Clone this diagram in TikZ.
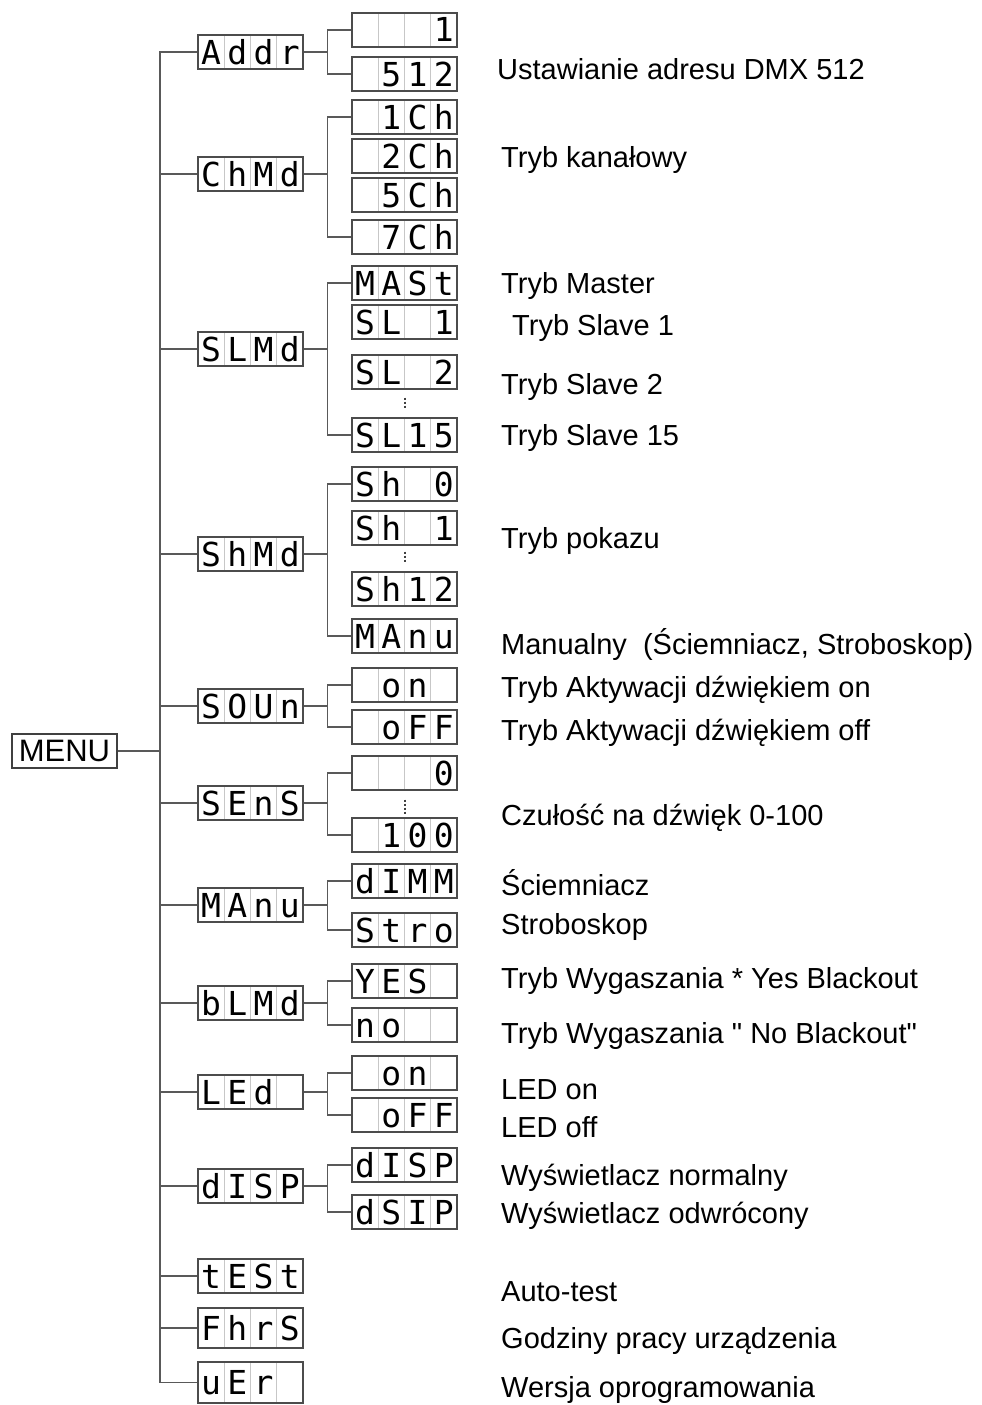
\documentclass[tikz,border=0pt]{standalone}
\usepackage{fontspec}
\setmainfont{Liberation Sans}[Ligatures=TeXOff]
\newfontfamily\lcdfont{DejaVu Sans Mono}
\usetikzlibrary{positioning}

% four cells of the display
\newcommand{\lcd}[4]{\makebox[26.25pt]{#1}\makebox[26.25pt]{#2}\makebox[26.25pt]{#3}\makebox[26.25pt]{#4}}

\begin{document}
\begin{tikzpicture}[x=1pt, y=-1pt,
    disp/.style={rectangle, draw=black!70, line width=1.3pt, inner sep=0pt,
      minimum width=105pt, minimum height=34pt, text height=24pt, text depth=0pt,
      font=\lcdfont\fontsize{33}{33}\selectfont,
      path picture={\foreach \k in {1,2,3}
        \draw[black!22, line width=0.9pt] ([xshift=\k*26.25pt]path picture bounding box.south west) -- ([xshift=\k*26.25pt]path picture bounding box.north west);}},
    conn/.style={draw=black!65, line width=1.3pt},
    gap/.style={draw=black!75, line width=2pt, dash pattern=on 2pt off 2pt},
    note/.style={anchor=base west, inner sep=0pt, font=\fontsize{29}{34}\selectfont}]

    \useasboundingbox (0,0) rectangle (982,1405);

    \node[draw=black!75, line width=1.5pt, minimum width=105pt, minimum height=34pt, inner sep=0pt,
      font=\fontsize{31}{31}\selectfont] (menu) at (64.5,751) {MENU};
    \coordinate (trunk) at (160,751);

    % main menu
    \node[disp] (addr) at (250.5,52) {\lcd{A}{d}{d}{r}};
    \node[disp] (chmd) at (250.5,174) {\lcd{C}{h}{M}{d}};
    \node[disp] (slmd) at (250.5,349) {\lcd{S}{L}{M}{d}};
    \node[disp] (shmd) at (250.5,554) {\lcd{S}{h}{M}{d}};
    \node[disp] (soun) at (250.5,706) {\lcd{S}{O}{U}{n}};
    \node[disp] (sens) at (250.5,803) {\lcd{S}{E}{n}{S}};
    \node[disp] (manu) at (250.5,905) {\lcd{M}{A}{n}{u}};
    \node[disp] (blmd) at (250.5,1003) {\lcd{b}{L}{M}{d}};
    \node[disp] (led) at (250.5,1092) {\lcd{L}{E}{d}{}};
    \node[disp] (disp) at (250.5,1186) {\lcd{d}{I}{S}{P}};
    \node[disp] (test) at (250.5,1276) {\lcd{t}{E}{S}{t}};
    \node[disp, minimum height=40pt] (fhrs) at (250.5,1328) {\lcd{F}{h}{r}{S}};
    \node[disp, minimum height=41pt] (uer) at (250.5,1382.5) {\lcd{u}{E}{r}{}};

    % sub menus
    \node[disp] (aone) at (404.5,30) {\lcd{}{}{}{1}};
    \node[disp] (atwo) at (404.5,74) {\lcd{}{5}{1}{2}};

    \node[disp] (chone) at (404.5,117) {\lcd{}{1}{C}{h}};
    \node[disp] (chtwo) at (404.5,156) {\lcd{}{2}{C}{h}};
    \node[disp] (chfive) at (404.5,195) {\lcd{}{5}{C}{h}};
    \node[disp] (chseven) at (404.5,237) {\lcd{}{7}{C}{h}};

    \node[disp] (mast) at (404.5,283) {\lcd{M}{A}{S}{t}};
    \node[disp] (slone) at (404.5,322) {\lcd{S}{L}{}{1}};
    \node[disp] (sltwo) at (404.5,372) {\lcd{S}{L}{}{2}};
    \node[disp] (slfif) at (404.5,435) {\lcd{S}{L}{1}{5}};

    \node[disp] (shzero) at (404.5,484) {\lcd{S}{h}{}{0}};
    \node[disp] (shone) at (404.5,528) {\lcd{S}{h}{}{1}};
    \node[disp] (shtwel) at (404.5,589) {\lcd{S}{h}{1}{2}};
    \node[disp] (shmanu) at (404.5,636) {\lcd{M}{A}{n}{u}};

    \node[disp] (son) at (404.5,685) {\lcd{}{o}{n}{}};
    \node[disp] (soff) at (404.5,727) {\lcd{}{o}{F}{F}};

    \node[disp] (szero) at (404.5,773) {\lcd{}{}{}{0}};
    \node[disp] (shund) at (404.5,835) {\lcd{}{1}{0}{0}};

    \node[disp] (dimm) at (404.5,881) {\lcd{d}{I}{M}{M}};
    \node[disp] (stro) at (404.5,930) {\lcd{S}{t}{r}{o}};

    \node[disp] (yes) at (404.5,981) {\lcd{Y}{E}{S}{}};
    \node[disp] (no) at (404.5,1025) {\lcd{n}{o}{}{}};

    \node[disp] (lon) at (404.5,1073) {\lcd{}{o}{n}{}};
    \node[disp] (loff) at (404.5,1115) {\lcd{}{o}{F}{F}};

    \node[disp] (dnorm) at (404.5,1165) {\lcd{d}{I}{S}{P}};
    \node[disp] (drev) at (404.5,1212) {\lcd{d}{S}{I}{P}};

    % descriptions
    \node[note] (taddr) at (497,79) {Ustawianie adresu DMX 512};
    \node[note] (tchmd) at (501,167) {Tryb kanałowy};
    \node[note] (tmast) at (501,293) {Tryb Master};
    \node[note] (tslone) at (512,335) {Tryb Slave 1};
    \node[note] (tsltwo) at (501,394) {Tryb Slave 2};
    \node[note] (tslfif) at (501,445) {Tryb Slave 15};
    \node[note] (tshmd) at (501,548) {Tryb pokazu};
    \node[note] (tshmanu) at (501,654) {Manualny\ \ (Ściemniacz, Stroboskop)};
    \node[note] (tson) at (501,697) {Tryb Aktywacji dźwiękiem on};
    \node[note] (tsoff) at (501,740) {Tryb Aktywacji dźwiękiem off};
    \node[note] (tsens) at (501,825) {Czułość na dźwięk 0-100};
    \node[note] (tdimm) at (501,895) {Ściemniacz};
    \node[note] (tstro) at (501,934) {Stroboskop};
    \node[note] (tyes) at (501,988) {Tryb Wygaszania * Yes Blackout};
    \node[note] (tno) at (501,1043) {Tryb Wygaszania " No Blackout"};
    \node[note] (tlon) at (501,1099) {LED on};
    \node[note] (tloff) at (501,1137) {LED off};
    \node[note] (tdnorm) at (501,1185) {Wyświetlacz normalny};
    \node[note] (tdrev) at (501,1223) {Wyświetlacz odwrócony};
    \node[note] (ttest) at (501,1301) {Auto-test};
    \node[note] (tfhrs) at (501,1348) {Godziny pracy urządzenia};
    \node[note] (tuer) at (501,1397) {Wersja oprogramowania};

    % tree lines
    \draw[conn] (menu.east) -- (trunk);
    \draw[conn] (addr.west) -| (trunk) |- (uer.west);
    \foreach \n in {chmd,slmd,shmd,soun,sens,manu,blmd,led,disp,test,fhrs}
      \draw[conn] (\n.west) -- (\n.west -| trunk);

    \draw[conn] (addr.east) -- ++(24,0) |- (aone.west) (addr.east) ++(24,0) |- (atwo.west);
    \draw[conn] (chmd.east) -- ++(24,0) |- (chone.west) (chmd.east) ++(24,0) |- (chseven.west);
    \draw[conn] (slmd.east) -- ++(24,0) |- (mast.west) (slmd.east) ++(24,0) |- (slfif.west);
    \draw[conn] (shmd.east) -- ++(24,0) |- (shzero.west) (shmd.east) ++(24,0) |- (shmanu.west);
    \draw[conn] (soun.east) -- ++(24,0) |- (son.west) (soun.east) ++(24,0) |- (soff.west);
    \draw[conn] (sens.east) -- ++(24,0) |- (szero.west) (sens.east) ++(24,0) |- (shund.west);
    \draw[conn] (manu.east) -- ++(24,0) |- (dimm.west) (manu.east) ++(24,0) |- (stro.west);
    \draw[conn] (blmd.east) -- ++(24,0) |- (yes.west) (blmd.east) ++(24,0) |- (no.west);
    \draw[conn] (led.east) -- ++(24,0) |- (lon.west) (led.east) ++(24,0) |- (loff.west);
    \draw[conn] (disp.east) -- ++(24,0) |- (dnorm.west) (disp.east) ++(24,0) |- (drev.west);

    % skipped values
    \draw[gap, shorten <=8pt, shorten >=8pt] (sltwo) -- (slfif);
    \draw[gap, shorten <=6pt, shorten >=9pt] (shone) -- (shtwel);
    \draw[gap, shorten <=9pt, shorten >=2pt] (szero) -- (shund);

\end{tikzpicture}
\end{document}
